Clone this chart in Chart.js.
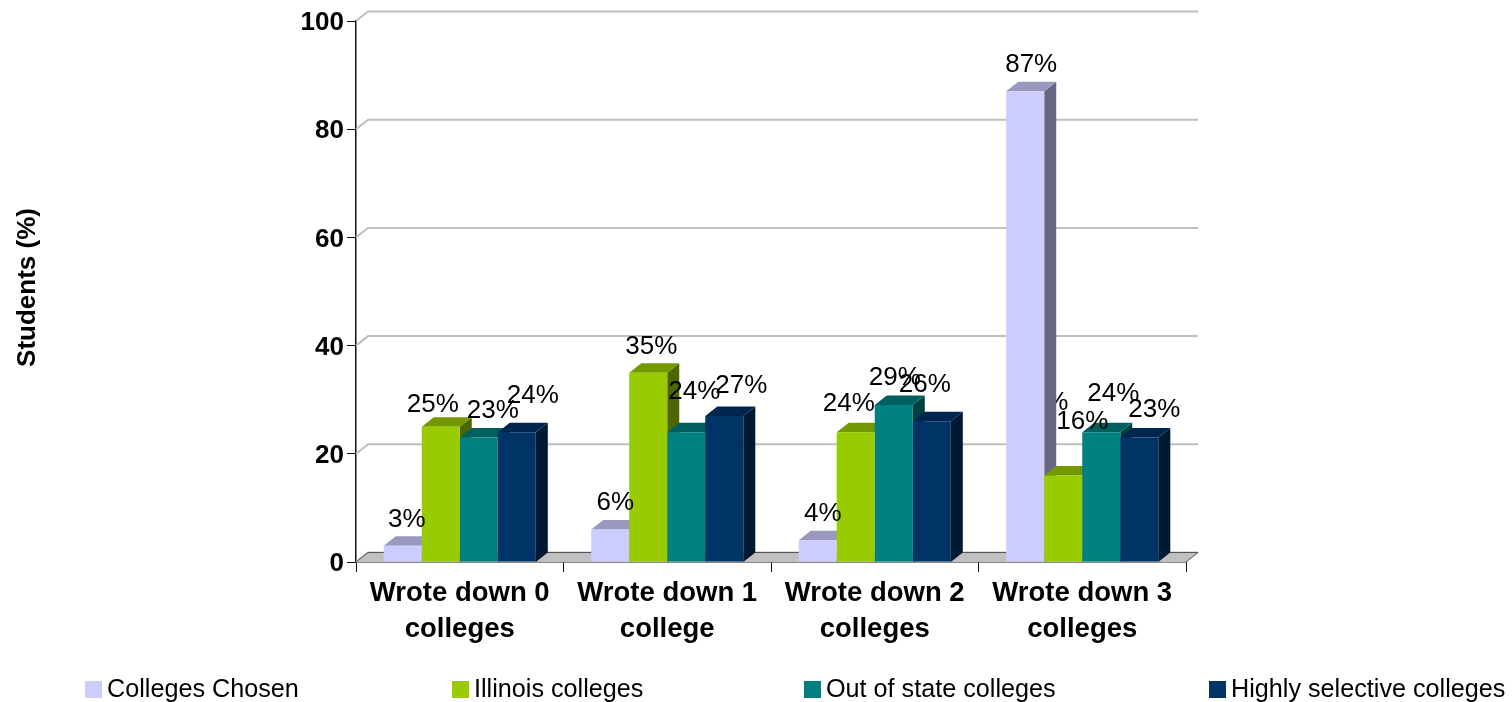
<!DOCTYPE html>
<html>
<head>
<meta charset="utf-8">
<title>Students chart</title>
<script src="https://cdn.jsdelivr.net/npm/chart.js@4"></script>
<style>
  html, body { margin: 0; padding: 0; background: #fff; overflow: hidden; }
  canvas { display: block; }
</style>
</head>
<body>
<canvas id="chart" width="1512" height="702"></canvas>
<script>
const categories = [
  ["Wrote down 0", "colleges"],
  ["Wrote down 1", "college"],
  ["Wrote down 2", "colleges"],
  ["Wrote down 3", "colleges"],
];
const seriesNames = ["Colleges Chosen", "Illinois colleges", "Out of state colleges", "Highly selective colleges"];
const collegesChosen = [3, 6, 4, 87];
const illinoisColleges = [25, 35, 24, 16];
const outOfState = [23, 24, 29, 24];
const highlySelective = [24, 27, 26, 23];
const seriesValues = [collegesChosen, illinoisColleges, outOfState, highlySelective];

const frontColors = ["#ccccff", "#99cc00", "#008080", "#003366"];
const topColors = ["#9999bf", "#739900", "#006060", "#00264d"];
const sideColors = ["#666680", "#4d6600", "#004040", "#001a33"];

// the labels sit where they were dragged in the original, so nudge each one [dx, dy] from its bar top
const labelNudge = [
  [[4, -26], [-8, -22], [14, -27], [16, -36]],
  [[5, -27], [3, -26], [8, -40], [17, -30]],
  [[5, -27], [-7, -28], [1, -27], [-7, -37]],
  [[6, -27], [19, -54], [12, -38], [15, -28]],
];
const legendX = [85, 452, 804, 1209];
const depthX = 12;
const depthY = -9.5;
const labelFont = "26px 'Liberation Sans'";

function polygon(ctx, pts, fill) {
  ctx.beginPath();
  ctx.moveTo(pts[0][0], pts[0][1]);
  for (let i = 1; i < pts.length; ++i) {
    ctx.lineTo(pts[i][0], pts[i][1]);
  }
  ctx.closePath();
  ctx.fillStyle = fill;
  ctx.fill();
}

const depthPlugin = {
  id: "depth",
  beforeDatasetsDraw(chart) {
    const ctx = chart.ctx;
    const x = chart.scales.x;
    const y = chart.scales.y;
    const base = y.getPixelForValue(0);
    ctx.save();

    // back wall lines
    ctx.strokeStyle = "#c0c0c0";
    ctx.lineWidth = 2;
    y.ticks.forEach(function (tick) {
      const py = y.getPixelForValue(tick.value);
      ctx.beginPath();
      ctx.moveTo(x.left, py);
      ctx.lineTo(x.left + depthX, py + depthY);
      ctx.lineTo(x.right + depthX, py + depthY);
      ctx.stroke();
    });

    // floor
    polygon(ctx, [[x.left, base], [x.left + depthX, base + depthY], [x.right + depthX, base + depthY], [x.right, base]], "#c0c0c0");
    ctx.strokeStyle = "#555";
    ctx.lineWidth = 1;
    ctx.beginPath();
    ctx.moveTo(x.left, base);
    ctx.lineTo(x.left + depthX, base + depthY);
    ctx.lineTo(x.right + depthX, base + depthY);
    ctx.lineTo(x.right, base);
    ctx.stroke();

    // label lost behind the tall bar in the original
    const hidden = chart.getDatasetMeta(1).data[3];
    ctx.fillStyle = "#000";
    ctx.font = labelFont;
    ctx.textAlign = "center";
    ctx.textBaseline = "middle";
    ctx.fillText("16%", hidden.x - 21, hidden.y - 73);

    // side and top of each bar, left to right
    chart.data.labels.forEach(function (label, c) {
      chart.data.datasets.forEach(function (ds, s) {
        const bar = chart.getDatasetMeta(s).data[c];
        const half = bar.width / 2;
        const l = bar.x - half;
        const r = bar.x + half;
        polygon(ctx, [[r, bar.y], [r + depthX, bar.y + depthY], [r + depthX, base + depthY], [r, base]], sideColors[s]);
        polygon(ctx, [[l, bar.y], [l + depthX, bar.y + depthY], [r + depthX, bar.y + depthY], [r, bar.y]], topColors[s]);
      });
    });
    ctx.restore();
  },
  afterDatasetsDraw(chart) {
    const ctx = chart.ctx;
    ctx.save();
    ctx.fillStyle = "#000";
    ctx.font = labelFont;
    ctx.textAlign = "center";
    ctx.textBaseline = "middle";
    chart.data.datasets.forEach(function (ds, s) {
      chart.getDatasetMeta(s).data.forEach(function (bar, c) {
        const nudge = labelNudge[c][s];
        ctx.fillText(ds.data[c] + "%", bar.x + nudge[0], bar.y + nudge[1]);
      });
    });

    // legend, spaced unevenly like the original
    ctx.textAlign = "left";
    ctx.font = "25.2px 'Liberation Sans'";
    chart.data.datasets.forEach(function (ds, s) {
      ctx.fillStyle = frontColors[s];
      ctx.fillRect(legendX[s], 681, 17, 17);
      ctx.fillStyle = "#000";
      ctx.fillText(ds.label, legendX[s] + 22, 690);
    });

    // axis title, a little above the middle of the axis in the original
    ctx.save();
    ctx.translate(27.5, 287.5);
    ctx.rotate(-Math.PI / 2);
    ctx.textAlign = "center";
    ctx.font = "bold 26px 'Liberation Sans'";
    ctx.fillText("Students (%)", 0, 0);
    ctx.restore();
    ctx.restore();
  },
};

const chart = new Chart(document.getElementById("chart"), {
  type: "bar",
  data: {
    labels: categories,
    datasets: seriesValues.map(function (values, s) {
      return {
        label: seriesNames[s],
        data: values,
        backgroundColor: frontColors[s],
        borderWidth: 0,
        categoryPercentage: 0.733,
        barPercentage: 1,
      };
    }),
  },
  plugins: [depthPlugin],
  options: {
    responsive: false,
    animation: false,
    layout: { padding: { top: 21, right: 326, left: 0, bottom: 0 } },
    plugins: { legend: { display: false }, tooltip: { enabled: false } },
    scales: {
      x: {
        afterFit(scale) { scale.height = 140; },
        border: { color: "#111", width: 1.5 },
        grid: { drawOnChartArea: false, color: "#111", tickLength: 10 },
        ticks: {
          color: "#000",
          maxRotation: 0,
          autoSkip: false,
          padding: 3,
          font: { family: "'Liberation Sans'", size: 27.5, weight: "bold", lineHeight: 1.33 },
        },
      },
      y: {
        min: 0,
        max: 100,
        afterFit(scale) { scale.width = 356; },
        border: { color: "#111", width: 1.5 },
        grid: { drawOnChartArea: false, color: "#111", tickLength: 9 },
        ticks: {
          stepSize: 20,
          color: "#000",
          padding: 3,
          labelOffset: 2,
          font: { family: "'Liberation Sans'", size: 26, weight: "bold" },
        },
      },
    },
  },
});
</script>
</body>
</html>
